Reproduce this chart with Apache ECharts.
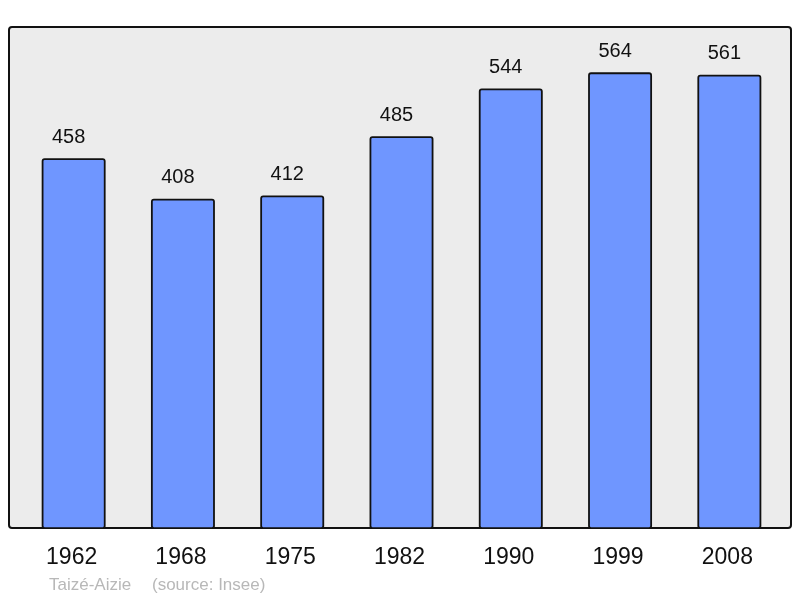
<!DOCTYPE html>
<html>
<head>
<meta charset="utf-8">
<script src="https://cdn.jsdelivr.net/npm/echarts@6/dist/echarts.min.js"></script>
<style>
  html, body { margin: 0; padding: 0; background: #fff; }
  #chart { width: 800px; height: 598px; }
</style>
</head>
<body>
<div id="chart"></div>
<script>
// population par recensement
const years = ['1962', '1968', '1975', '1982', '1990', '1999', '2008'];
const population = [458, 408, 412, 485, 544, 564, 561];
const yMax = 620;

const chart = echarts.init(document.getElementById('chart'));
chart.setOption({
  animation: false,
  textStyle: { fontFamily: 'Liberation Sans, Arial, sans-serif' },
  grid: { left: 19, right: 16, top: 27, bottom: 69 },
  graphic: [
    {
      type: 'rect',
      z: -10,
      shape: { x: 9, y: 27, width: 782, height: 501, r: 3 },
      style: { fill: '#ececec', stroke: '#111', lineWidth: 2 },
    },
    {
      type: 'text',
      left: 49,
      top: 577,
      style: { text: 'Taizé-Aizie', fill: '#b8b8b8', fontSize: 17, fontFamily: 'Liberation Sans, Arial, sans-serif' },
    },
    {
      type: 'text',
      left: 152,
      top: 577,
      style: { text: '(source: Insee)', fill: '#b8b8b8', fontSize: 17, fontFamily: 'Liberation Sans, Arial, sans-serif' },
    },
  ],
  xAxis: {
    type: 'category',
    data: years,
    axisLine: { show: false },
    axisTick: { show: false },
    axisLabel: {
      color: '#111',
      fontSize: 23,
      margin: 17,
      padding: [0, 4, 0, 0],
    },
  },
  yAxis: {
    type: 'value',
    min: 0,
    max: yMax,
    show: false,
  },
  series: [
    {
      type: 'bar',
      data: population,
      barCategoryGap: '41.5%',
      itemStyle: {
        color: '#6f96ff',
        borderColor: '#111',
        borderWidth: 1.8,
        borderRadius: 2,
      },
      label: {
        show: true,
        position: 'top',
        distance: 11,
        offset: [-5, 0],
        color: '#111',
        fontSize: 20,
      },
    },
  ],
});
</script>
</body>
</html>
